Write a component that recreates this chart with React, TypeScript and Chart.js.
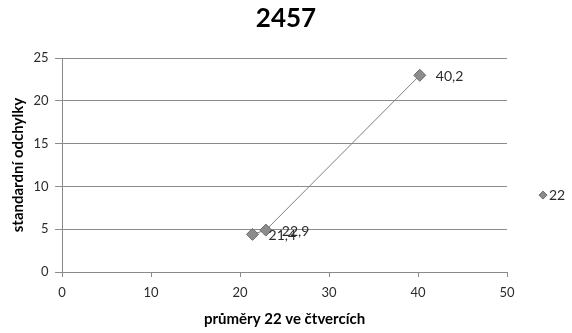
import React, { useEffect, useRef } from "react";
import { Chart, registerables } from "chart.js";

Chart.register(...registerables);

// Series data: mean values (x) vs. standard deviations (y)
const SERIES_NAME = "22";
const CHART_TITLE = "2457";
const X_TITLE = "průměry 22 ve čtvercích";
const Y_TITLE = "standardní odchylky";
const xValues = [21.4, 22.9, 40.2];
const yValues = [4.4, 4.9, 23.0];
const pointLabels = ["21,4", "22,9", "40,2"];
const xTicks = [0, 10, 20, 30, 40, 50];
const yTicks = [0, 5, 10, 15, 20, 25];

const FONT = "Lato, 'Open Sans', sans-serif";
const GRID = "#8a8a8a";
const TEXT = "#2b2b2b";
const MARKER_FILL = "#8c8c8c";
const MARKER_BORDER = "#6a6a6a";

// Value labels drawn to the right of each marker
const pointLabelPlugin = {
  id: "pointValueLabels",
  afterDatasetsDraw(chart: any) {
    const ctx = chart.ctx;
    const meta = chart.getDatasetMeta(0);
    ctx.save();
    ctx.font = `14px ${FONT}`;
    ctx.fillStyle = TEXT;
    ctx.textBaseline = "middle";
    ctx.textAlign = "left";
    meta.data.forEach((el: any, i: number) => {
      ctx.fillText(pointLabels[i], el.x + 16, el.y + 1);
    });
    ctx.restore();
  },
};

// Legend on the right: a diamond marker followed by the series name
const sideLegendPlugin = {
  id: "sideLegend",
  afterDraw(chart: any) {
    const ctx = chart.ctx;
    const area = chart.chartArea;
    const ds = chart.data.datasets[0];
    const cx = area.right + 36;
    const cy = (area.top + area.bottom) / 2 + 30;
    const r = 4;
    ctx.save();
    ctx.beginPath();
    ctx.moveTo(cx, cy - r);
    ctx.lineTo(cx + r, cy);
    ctx.lineTo(cx, cy + r);
    ctx.lineTo(cx - r, cy);
    ctx.closePath();
    ctx.fillStyle = MARKER_FILL;
    ctx.fill();
    ctx.strokeStyle = MARKER_BORDER;
    ctx.lineWidth = 1;
    ctx.stroke();
    ctx.font = `14px ${FONT}`;
    ctx.fillStyle = TEXT;
    ctx.textBaseline = "middle";
    ctx.textAlign = "left";
    ctx.fillText(ds.label, cx + 6, cy);
    ctx.restore();
  },
};

export default function App() {
  const canvasRef = useRef<HTMLCanvasElement | null>(null);

  useEffect(() => {
    if (!canvasRef.current) return;
    const chart = new Chart(canvasRef.current, {
      type: "scatter",
      data: {
        datasets: [
          {
            label: SERIES_NAME,
            data: xValues.map((x, i) => ({ x, y: yValues[i] })),
            showLine: true,
            borderColor: "#7f7f7f",
            borderWidth: 1,
            pointStyle: "rectRot",
            pointRadius: 6,
            pointHoverRadius: 6,
            pointBackgroundColor: MARKER_FILL,
            pointBorderColor: MARKER_BORDER,
            pointBorderWidth: 1,
          },
        ],
      },
      options: {
        animation: false,
        responsive: false,
        layout: { autoPadding: false, padding: { left: 0, right: 0, top: 0, bottom: 5 } },
        plugins: {
          legend: { display: false },
          tooltip: { enabled: false },
          title: {
            display: true,
            text: CHART_TITLE,
            color: "#000",
            font: { family: FONT, size: 26, weight: "bold" },
            padding: { top: 3, bottom: 24 },
          },
        },
        scales: {
          x: {
            type: "linear",
            min: xTicks[0],
            max: xTicks[xTicks.length - 1],
            afterBuildTicks: (axis: any) => {
              axis.ticks = xTicks.map((v) => ({ value: v }));
            },
            grid: {
              drawOnChartArea: false,
              drawTicks: true,
              tickLength: 5,
              color: GRID,
            },
            border: { color: GRID, width: 1 },
            ticks: {
              color: TEXT,
              font: { family: FONT, size: 13 },
              padding: 8,
              maxRotation: 0,
            },
            title: {
              display: true,
              text: X_TITLE,
              color: "#000",
              font: { family: FONT, size: 15, weight: "bold" },
              padding: { top: 1.4, bottom: 0 },
            },
          },
          y: {
            type: "linear",
            min: yTicks[0],
            max: yTicks[yTicks.length - 1],
            afterBuildTicks: (axis: any) => {
              axis.ticks = yTicks.map((v) => ({ value: v }));
            },
            grid: {
              drawOnChartArea: true,
              drawTicks: true,
              tickLength: 7,
              color: GRID,
            },
            border: { color: GRID, width: 1 },
            ticks: {
              color: TEXT,
              font: { family: FONT, size: 13 },
              padding: 6.5,
            },
            title: {
              display: true,
              text: Y_TITLE,
              color: "#000",
              font: { family: FONT, size: 15, weight: "bold" },
              padding: { top: 9, bottom: 0 },
            },
          },
          // Empty column on the right that reserves room for the legend
          legendSpace: {
            type: "linear",
            position: "right",
            display: true,
            grid: { display: false, drawTicks: false },
            border: { display: false },
            ticks: { display: false },
            afterFit: (scale: any) => {
              scale.width = 65;
            },
          },
        },
      },
      plugins: [pointLabelPlugin, sideLegendPlugin],
    });
    return () => chart.destroy();
  }, []);

  return (
    <div style={{ position: "absolute", left: 0, top: 0, width: 572, height: 333, background: "#fff" }}>
      <canvas ref={canvasRef} width={572} height={333} />
    </div>
  );
}
